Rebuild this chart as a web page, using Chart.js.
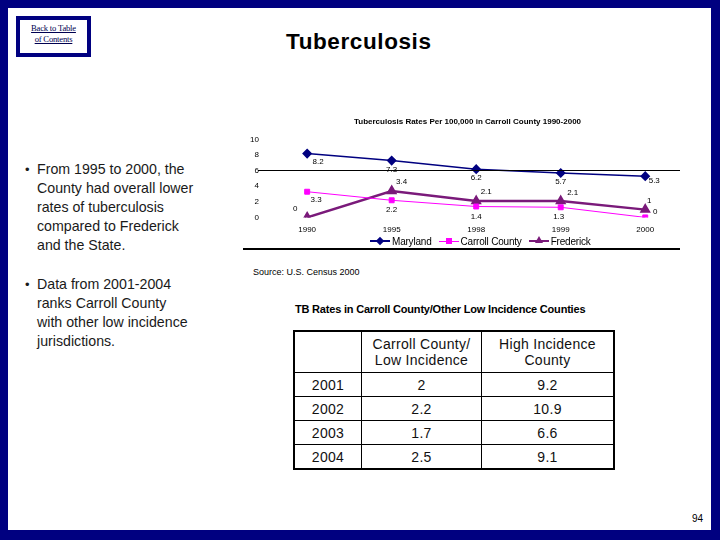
<!DOCTYPE html>
<html>
<head>
<meta charset="utf-8">
<title>Tuberculosis</title>
<script src="https://cdn.jsdelivr.net/npm/chart.js@4.4.1/dist/chart.umd.min.js"></script>
<style>
  body { margin: 0; width: 720px; height: 540px; overflow: hidden; background: #fff;
         font-family: "Liberation Sans", Arial, sans-serif; }
  .slide { position: absolute; left: 0; top: 0; width: 720px; height: 540px; box-sizing: border-box;
           border-top: 8px solid #000080; border-left: 8px solid #000080;
           border-right: 9px solid #000080; border-bottom: 10px solid #000080; }
  .abs { position: absolute; }
  .back { left: 16px; top: 16px; width: 67px; height: 30px; border: 4px solid #000080;
          font-family: "Liberation Serif", "Times New Roman", serif; font-size: 8.6px; line-height: 10.5px;
          text-align: center; color: #000050; text-decoration: underline; padding-top: 3px; box-sizing: content-box;
          letter-spacing: -0.2px; }
  .back span { display: block; }
  h1 { position: absolute; left: 286px; top: 29px; margin: 0; font-size: 22.5px; font-weight: bold; color: #000; letter-spacing: 0.6px; }
  .bullets { left: 25px; top: 160px; font-size: 14.2px; line-height: 19px; color: #1a1a1a; }
  .bullets p { margin: 0 0 20px 0; padding-left: 12px; position: relative; }
  .bullets p::before { content: "\2022"; position: absolute; left: 0; font-size: 13px; }
  .hline { background: #000; height: 1.5px; }
  .legend { top: 235px; left: 370px; font-size: 10px; color: #000; display: flex; align-items: center; white-space: nowrap; letter-spacing: -0.2px; }
  .legend .item { display: flex; align-items: center; margin-right: 7px; }
  .legend .sw { position: relative; width: 20px; height: 12px; margin-right: 2px; }
  .legend .sw .ln { position: absolute; left: 0; right: 0; top: 6px; }
  .legend .sw .mk { position: absolute; }
  .source { left: 253px; top: 267px; font-size: 9px; color: #000; }
  .ttitle { left: 295px; top: 303px; font-size: 11px; font-weight: bold; letter-spacing: -0.2px; }
  table { position: absolute; left: 293px; top: 330px; border-collapse: collapse; border: 2px solid #000;
          font-size: 14px; color: #111; letter-spacing: 0.3px; }
  td { border: 1px solid #000; text-align: center; padding: 0; height: 23px; line-height: 16px; }
  tr.head td { height: 40px; }
  .page { left: 692px; top: 513px; font-size: 10px; }
</style>
</head>
<body>
<div class="slide"></div>
<div class="abs back"><span>Back to Table</span><span>of Contents</span></div>
<h1>Tuberculosis</h1>

<div class="abs bullets">
  <p>From 1995 to 2000, the<br>County had overall lower<br>rates of tuberculosis<br>compared to Frederick<br>and the State.</p>
  <p>Data from 2001-2004<br>ranks Carroll County<br>with other low incidence<br>jurisdictions.</p>
</div>

<canvas id="tbChart" class="abs" style="left:240px; top:112px;"></canvas>
<div class="abs hline" style="left:258px; top:169.5px; width:422px;"></div>
<div class="abs hline" style="left:243px; top:248px; width:437px;"></div>
<div class="abs legend" id="legend"></div>

<div class="abs source">Source: U.S. Census 2000</div>
<div class="abs ttitle">TB Rates in Carroll County/Other Low Incidence Counties</div>
<table id="tbTable"></table>
<div class="abs page">94</div>

<script>
// chart data
const years = ['1990', '1995', '1998', '1999', '2000'];
const maryland = [8.2, 7.3, 6.2, 5.7, 5.3];
const carroll = [3.3, 2.2, 1.4, 1.3, 0];
const frederick = [0, 3.4, 2.1, 2.1, 1];
const seriesNames = ['Maryland', 'Carroll County', 'Frederick'];
const yTicks = [0, 2, 4, 6, 8, 10];

// table data
const tableYears = ['2001', '2002', '2003', '2004'];
const lowIncidence = ['2', '2.2', '1.7', '2.5'];
const highIncidence = ['9.2', '10.9', '6.6', '9.1'];

const colors = ['#000080', '#ff00ff', '#7a1a7a'];

// value labels beside each point (offsets per series)
const labelOffsets = [
    [[11, 8], [0, 9], [0, 9], [0, 9], [9, 5]],
    [[9, 8], [0, 10], [0, 10], [-2, 10], [10, -6]],
    [[-12, -9], [10, -9], [10, -9], [12, -8], [4, -9]]
];

const pointLabels = {
    id: 'pointLabels',
    afterDatasetsDraw(chart) {
        const ctx = chart.ctx;
        ctx.save();
        ctx.font = '8px "Liberation Sans", Arial, sans-serif';
        ctx.fillStyle = '#000';
        ctx.textAlign = 'center';
        ctx.textBaseline = 'middle';
        chart.data.datasets.forEach((ds, i) => {
            chart.getDatasetMeta(i).data.forEach((pt, j) => {
                const off = labelOffsets[i][j];
                ctx.fillText(String(ds.data[j]), pt.x + off[0], pt.y + off[1]);
            });
        });
        ctx.restore();
    }
};

const canvas = document.getElementById('tbChart');
canvas.width = 454;
canvas.height = 131;
canvas.style.width = '454px';
canvas.style.height = '131px';

new Chart(canvas.getContext('2d'), {
    type: 'line',
    data: {
        labels: years,
        datasets: [{
            label: seriesNames[0],
            data: maryland,
            borderColor: colors[0],
            backgroundColor: colors[0],
            borderWidth: 1.5,
            pointStyle: 'rectRot',
            pointRadius: 4,
            tension: 0
        }, {
            label: seriesNames[1],
            data: carroll,
            borderColor: colors[1],
            backgroundColor: colors[1],
            borderWidth: 1,
            pointStyle: 'rect',
            pointRadius: 3.5,
            tension: 0
        }, {
            label: seriesNames[2],
            data: frederick,
            borderColor: colors[2],
            backgroundColor: colors[2],
            borderWidth: 2.5,
            pointStyle: 'triangle',
            pointRadius: 4,
            tension: 0
        }]
    },
    options: {
        responsive: false,
        animation: false,
        layout: { padding: { left: 4, right: 3, top: 0, bottom: 0 } },
        plugins: {
            legend: { display: false },
            tooltip: { enabled: false },
            title: {
                display: true,
                text: 'Tuberculosis Rates Per 100,000 in Carroll County 1990-2000',
                color: '#000',
                font: { family: '"Liberation Sans", Arial, sans-serif', size: 8, weight: 'bold' },
                padding: { top: 5, bottom: 13 }
            }
        },
        scales: {
            x: {
                offset: true,
                grid: { display: false, drawTicks: false },
                border: { display: false },
                ticks: { color: '#000', font: { family: '"Liberation Sans", Arial, sans-serif', size: 8 }, padding: 8 }
            },
            y: {
                min: 0,
                max: 10,
                afterBuildTicks(axis) { axis.ticks = yTicks.map(v => ({ value: v })); },
                grid: { display: false, drawTicks: false },
                border: { display: false },
                ticks: { color: '#000', font: { family: '"Liberation Sans", Arial, sans-serif', size: 8 }, padding: 6 }
            }
        }
    },
    plugins: [pointLabels]
});

// html legend
const markers = [
    '<div class="mk" style="left:6px;top:2px;width:6px;height:6px;background:' + colors[0] + ';transform:rotate(45deg);margin-left:1px;margin-top:1px"></div>',
    '<div class="mk" style="left:7px;top:3px;width:6px;height:6px;background:' + colors[1] + '"></div>',
    '<div class="mk" style="left:6px;top:1px;width:0;height:0;border-left:4px solid transparent;border-right:4px solid transparent;border-bottom:7px solid ' + colors[2] + '"></div>'
];
const lineW = [1.5, 1, 2.5];
document.getElementById('legend').innerHTML = seriesNames.map((n, i) =>
    '<div class="item"><div class="sw"><div class="ln" style="height:' + lineW[i] + 'px;background:' + colors[i] +
    ';margin-top:-' + (lineW[i] / 2) + 'px"></div>' + markers[i] + '</div>' + n + '</div>'
).join('');

// table
const rows = ['<tr class="head"><td style="width:66px"></td><td style="width:119px">Carroll County/<br>Low Incidence</td><td style="width:131px">High Incidence<br>County</td></tr>'];
tableYears.forEach((y, i) => {
    rows.push('<tr><td>' + y + '</td><td>' + lowIncidence[i] + '</td><td>' + highIncidence[i] + '</td></tr>');
});
document.getElementById('tbTable').innerHTML = rows.join('');
</script>
</body>
</html>
